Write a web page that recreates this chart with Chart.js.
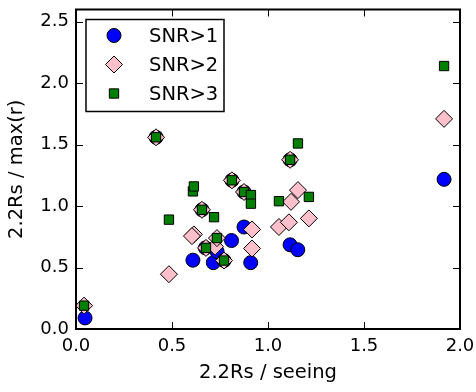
<!DOCTYPE html>
<html>
<head>
<meta charset="utf-8">
<script src="https://cdn.jsdelivr.net/npm/chart.js@4/dist/chart.umd.min.js"></script>
<style>
  html, body { margin: 0; padding: 0; background: #fff; }
  #wrap { width: 476px; height: 392px; }
</style>
</head>
<body>
<div id="wrap"><canvas id="c" width="476" height="392"></canvas></div>
<script>
// Series names
const seriesNames = ['SNR>1', 'SNR>2', 'SNR>3'];

// SNR>1 (blue circles)
const snr1X = [0.047, 0.417, 0.609, 0.656, 0.674, 0.715, 0.735, 0.771, 0.810, 0.812, 0.875, 0.875, 0.910, 1.115, 1.115, 1.155, 1.917];
const snr1Y = [0.09, 1.56, 0.56, 0.97, 0.66, 0.54, 0.63, 0.557, 0.72, 1.21, 0.83, 1.115, 0.54, 0.685, 1.377, 0.645, 1.218];

// SNR>2 (pink diamonds)
const snr2X = [0.042, 0.417, 0.484, 0.614, 0.604, 0.656, 0.677, 0.724, 0.734, 0.771, 0.812, 0.875, 0.917, 0.917, 1.057, 1.109, 1.120, 1.115, 1.156, 1.213, 1.917];
const snr2Y = [0.19, 1.56, 0.446, 0.77, 0.756, 0.97, 0.66, 0.67, 0.74, 0.557, 1.21, 1.115, 0.81, 0.655, 0.83, 0.868, 1.035, 1.377, 1.13, 0.90, 1.71];

// SNR>3 (green squares)
const snr3X = [0.042, 0.417, 0.484, 0.609, 0.614, 0.656, 0.677, 0.719, 0.734, 0.771, 0.812, 0.875, 0.911, 0.911, 1.057, 1.115, 1.156, 1.213, 1.917];
const snr3Y = [0.19, 1.56, 0.89, 1.12, 1.16, 0.97, 0.66, 0.91, 0.74, 0.557, 1.21, 1.115, 1.09, 1.02, 1.04, 1.377, 1.51, 1.075, 2.14];

// Axis ticks
const xTicks = [0.0, 0.5, 1.0, 1.5, 2.0];
const yTicks = [0.0, 0.5, 1.0, 1.5, 2.0, 2.5];

const FONT = "'DejaVu Sans', sans-serif";
Chart.defaults.color = '#000';
Chart.defaults.font.family = FONT;

const toPoints = (xs, ys) => xs.map((x, i) => ({ x: x, y: ys[i] }));

const styles = [
  { color: '#0000ff', pointStyle: 'circle', radius: 7 },
  { color: '#ffc0cb', pointStyle: 'rectRot', radius: 8.5 },
  { color: '#008000', pointStyle: 'rect', radius: 6.6 }
];

const seriesData = [toPoints(snr1X, snr1Y), toPoints(snr2X, snr2Y), toPoints(snr3X, snr3Y)];

const datasets = seriesNames.map((name, i) => ({
  label: name,
  data: seriesData[i],
  pointStyle: styles[i].pointStyle,
  pointRadius: styles[i].radius,
  pointHoverRadius: styles[i].radius,
  pointBackgroundColor: styles[i].color,
  pointBorderColor: '#000',
  pointBorderWidth: 1,
  backgroundColor: styles[i].color,
  borderColor: '#000',
  showLine: false,
  order: seriesNames.length - i,
  clip: false
}));

// Inward tick marks on all four sides, the axes frame and the boxed legend
const framePlugin = {
  id: 'frame',
  afterDraw(chart) {
    const ctx = chart.ctx;
    const a = chart.chartArea;
    const xs = chart.scales.x, ys = chart.scales.y;
    const tl = 7;
    ctx.save();
    ctx.strokeStyle = '#000';
    ctx.lineWidth = 1;
    ctx.beginPath();
    xs.ticks.forEach(t => {
      const px = Math.round(xs.getPixelForValue(t.value)) + 0.5;
      ctx.moveTo(px, a.bottom); ctx.lineTo(px, a.bottom - tl);
      ctx.moveTo(px, a.top); ctx.lineTo(px, a.top + tl);
    });
    ys.ticks.forEach(t => {
      const py = Math.round(ys.getPixelForValue(t.value)) + 0.5;
      ctx.moveTo(a.left, py); ctx.lineTo(a.left + tl, py);
      ctx.moveTo(a.right, py); ctx.lineTo(a.right - tl, py);
    });
    ctx.stroke();

    ctx.lineWidth = 2;
    ctx.strokeRect(a.left, a.top, a.right - a.left, a.bottom - a.top);

    // Legend box in the upper-left corner of the plot area
    const lx = a.left + 10, ly = a.top + 10, lw = 138, lh = 92;
    ctx.fillStyle = '#fff';
    ctx.fillRect(lx, ly, lw, lh);
    ctx.lineWidth = 1.5;
    ctx.strokeRect(lx, ly, lw, lh);
    ctx.font = '19.5px ' + FONT;
    ctx.textBaseline = 'middle';
    ctx.textAlign = 'left';
    chart.data.datasets.forEach((ds, i) => {
      const cy = ly + 16 + i * 29;
      const cx = lx + 28;
      ctx.fillStyle = ds.pointBackgroundColor;
      ctx.strokeStyle = '#000';
      ctx.lineWidth = 1;
      Chart.helpers.drawPoint(ctx, {
        pointStyle: ds.pointStyle,
        radius: ds.pointRadius,
        rotation: 0,
        borderWidth: 1
      }, cx, cy);
      ctx.fillStyle = '#000';
      ctx.fillText(ds.label, lx + 63, cy + 1);
    });
    ctx.restore();
  }
};

new Chart(document.getElementById('c'), {
  type: 'scatter',
  data: { datasets: datasets },
  options: {
    responsive: false,
    animation: false,
    devicePixelRatio: 1,
    layout: { padding: { top: 3, right: 16, left: 0, bottom: 0 } },
    plugins: { legend: { display: false }, tooltip: { enabled: false } },
    scales: {
      x: {
        type: 'linear',
        min: 0, max: 2,
        afterBuildTicks: s => { s.ticks = xTicks.map(v => ({ value: v })); },
        afterFit: s => { s.height = 63; s.paddingLeft = 0; s.paddingRight = 0; },
        grid: { display: false, drawTicks: false },
        border: { display: false },
        ticks: {
          padding: 7,
          font: { size: 18, family: FONT },
          color: '#000',
          maxRotation: 0,
          callback: v => Number(v).toFixed(1)
        },
        title: {
          display: true,
          text: '2.2Rs / seeing',
          font: { size: 19.5, family: FONT },
          color: '#000',
          padding: { top: 0, bottom: 7 }
        }
      },
      y: {
        type: 'linear',
        min: 0, max: 2.6,
        afterBuildTicks: s => { s.ticks = yTicks.map(v => ({ value: v })); },
        afterFit: s => { s.width = 76; s.paddingTop = 0; s.paddingBottom = 0; },
        grid: { display: false, drawTicks: false },
        border: { display: false },
        ticks: {
          padding: 7,
          font: { size: 18, family: FONT },
          color: '#000',
          callback: v => Number(v).toFixed(1)
        },
        title: {
          display: true,
          text: '2.2Rs / max(r)',
          font: { size: 19.5, family: FONT },
          color: '#000',
          padding: { top: 5, bottom: 0 }
        }
      }
    }
  },
  plugins: [framePlugin]
});
</script>
</body>
</html>
